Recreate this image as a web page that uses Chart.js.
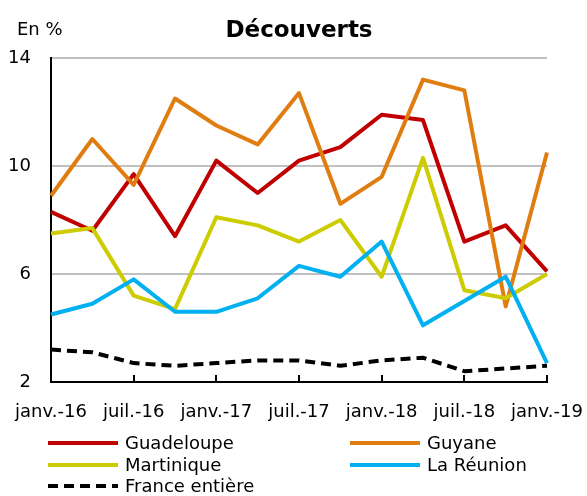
<!DOCTYPE html>
<html>
<head>
<meta charset="utf-8">
<script src="https://cdn.jsdelivr.net/npm/chart.js@4"></script>
<style>
  html, body { margin: 0; padding: 0; background: #fff; }
  #wrap { position: relative; width: 587px; height: 496px; }
</style>
</head>
<body>
<div id="wrap"><canvas id="c"></canvas></div>
<script>
// Quarterly points, janv.-16 to janv.-19
const quarters = ['janv.-16', 'avr.-16', 'juil.-16', 'oct.-16',
                  'janv.-17', 'avr.-17', 'juil.-17', 'oct.-17',
                  'janv.-18', 'avr.-18', 'juil.-18', 'oct.-18', 'janv.-19'];
const guadeloupe = [8.3, 7.6, 9.7, 7.4, 10.2, 9.0, 10.2, 10.7, 11.9, 11.7, 7.2, 7.8, 6.1];
const guyane     = [8.9, 11.0, 9.3, 12.5, 11.5, 10.8, 12.7, 8.6, 9.6, 13.2, 12.8, 4.8, 10.5];
const martinique = [7.5, 7.7, 5.2, 4.7, 8.1, 7.8, 7.2, 8.0, 5.9, 10.3, 5.4, 5.1, 6.0];
const reunion    = [4.5, 4.9, 5.8, 4.6, 4.6, 5.1, 6.3, 5.9, 7.2, 4.1, 5.0, 5.9, 2.7];
const france     = [3.2, 3.1, 2.7, 2.6, 2.7, 2.8, 2.8, 2.6, 2.8, 2.9, 2.4, 2.5, 2.6];
const yTicks = [2, 6, 10, 14];

const FONT = "'DejaVu Sans', sans-serif";
Chart.defaults.font.family = FONT;
Chart.defaults.font.size = 18;
Chart.defaults.color = '#000';

// titles, inner tick marks and the two-column legend
const decor = {
    id: 'decor',
    afterDraw(chart) {
        const { ctx, chartArea: a, scales: { x } } = chart;
        ctx.save();
        // tick marks inside the plot, every other quarter
        ctx.strokeStyle = '#000';
        ctx.lineWidth = 2;
        quarters.forEach((q, i) => {
            if (i % 2 || i === 0) return;
            const px = Math.round(x.getPixelForValue(i));
            ctx.beginPath();
            ctx.moveTo(px, a.bottom);
            ctx.lineTo(px, a.bottom - 7);
            ctx.stroke();
        });
        ctx.fillStyle = '#000';
        ctx.textBaseline = 'middle';
        ctx.font = '18px ' + FONT;
        ctx.textAlign = 'left';
        ctx.fillText('En %', 17, 30);
        ctx.font = 'bold 23px ' + FONT;
        ctx.textAlign = 'center';
        ctx.fillText('Découverts', 299, 31);
        // legend
        ctx.font = '18px ' + FONT;
        ctx.textAlign = 'left';
        const colX = [48, 350], rowY = [443, 465, 486];
        chart.data.datasets.forEach((ds, i) => {
            const lx = colX[i % 2], ly = rowY[Math.floor(i / 2)];
            ctx.strokeStyle = ds.borderColor;
            ctx.lineWidth = 4;
            ctx.setLineDash(ds.borderDash || []);
            ctx.beginPath();
            ctx.moveTo(lx, ly);
            ctx.lineTo(lx + 70, ly);
            ctx.stroke();
            ctx.setLineDash([]);
            ctx.fillText(ds.label, lx + 77, ly + 1);
        });
        ctx.restore();
    }
};

const line = (label, data, color, order, dash) => ({
    label, data, order,
    borderColor: color,
    borderWidth: 4,
    borderDash: dash,
    borderJoinStyle: 'round',
    pointRadius: 0,
    tension: 0,
    fill: false,
});

new Chart(document.getElementById('c'), {
    type: 'line',
    data: {
        labels: quarters,
        datasets: [
            line('Guadeloupe', guadeloupe, '#c00000', 5),
            line('Guyane', guyane, '#e07d10', 4),
            line('Martinique', martinique, '#cccc00', 3),
            line('La Réunion', reunion, '#00b0f0', 2),
            line('France entière', france, '#000000', 1, [10, 6]),
        ],
    },
    options: {
        responsive: true, maintainAspectRatio: false,
        animation: false,
        layout: { padding: { top: 58, right: 40, left: 0, bottom: 54 } },
        plugins: { legend: { display: false }, tooltip: { enabled: false } },
        scales: {
            x: {
                offset: false,
                afterFit: s => { s.height = 60; },
                grid: {
                    display: true, drawOnChartArea: false, drawTicks: true,
                    tickLength: 18, color: 'rgba(0,0,0,0)', tickColor: 'rgba(0,0,0,0)',
                },
                border: { color: '#000', width: 2 },
                ticks: {
                    autoSkip: false, maxRotation: 0, padding: 2,
                    callback: (v, i) => (i % 2 ? '' : quarters[i]),
                },
            },
            y: {
                min: 2, max: 14,
                afterFit: s => { s.width = 51; },
                afterBuildTicks: s => { s.ticks = yTicks.map(v => ({ value: v })); },
                grid: {
                    drawTicks: false,
                    color: c => (c.tick && c.tick.value === 2 ? 'rgba(0,0,0,0)' : '#c0c0c0'),
                    lineWidth: 2,
                },
                border: { color: '#000', width: 2 },
                ticks: { padding: 20 },
            },
        },
    },
    plugins: [decor],
});
</script>
</body>
</html>
